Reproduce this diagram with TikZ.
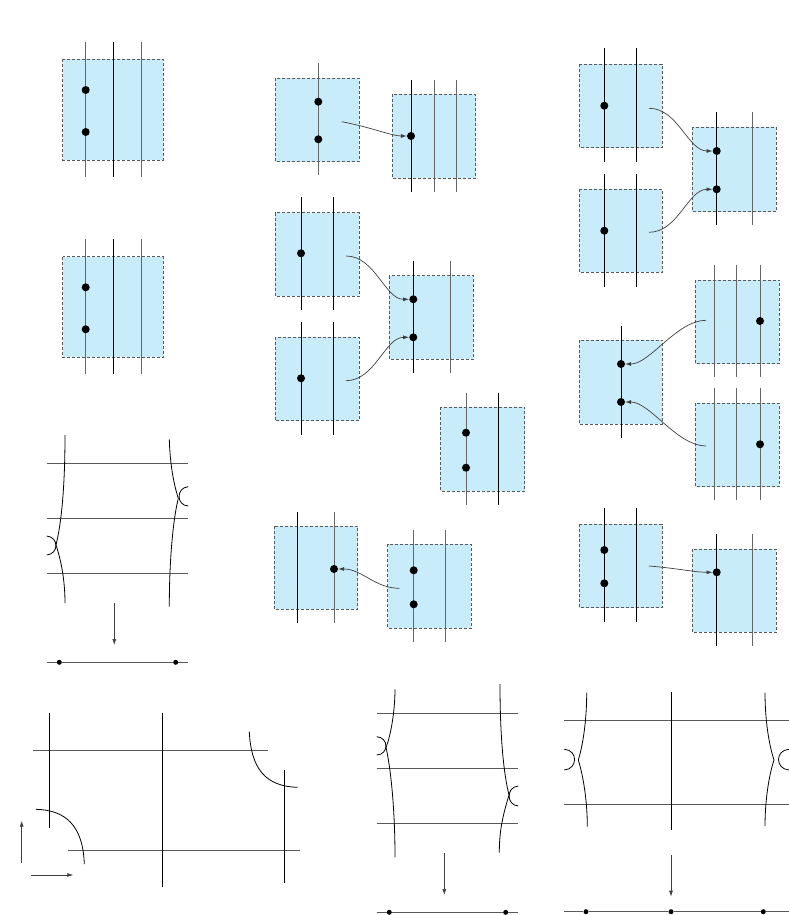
\documentclass[tikz,border=0pt]{standalone}
\usepackage{xcolor}
\usepackage{tikz}
\usetikzlibrary{arrows.meta}

\definecolor{regfill}{RGB}{200,236,250}

\begin{document}
\begin{tikzpicture}[
  x=1pt, y=-1pt,
  region/.style={draw=black!65, dash pattern=on 3pt off 2pt, fill=regfill, line width=0.8pt},
  strand/.style={line width=0.85pt, black},
  strandg/.style={line width=1pt, black!60},
  sheet/.style={line width=0.9pt, black!65},
  fold/.style={line width=0.8pt, black},
  dot/.style={circle, fill=black, inner sep=0pt, minimum size=8pt},
  basedot/.style={circle, fill=black, inner sep=0pt, minimum size=5pt},
  arr/.style={-{Latex[length=6pt,width=4pt]}, line width=0.7pt, black!75}
]
\useasboundingbox (0,0) rectangle (789,915);

% left column: two stacked regions
\draw[region] (62.7,59.3) rectangle (163.3,160);
\draw[strandg] (85.7,41.7) -- (85.7,176.7);
\draw[strand] (113.3,41.7) -- (113.3,176.7);
\draw[strandg] (141,41.7) -- (141,176.7);
\node[dot] (a1) at (85.7,90) {};
\node[dot] (a2) at (85.7,132) {};

\draw[region] (62.7,256.7) rectangle (163.3,357.3);
\draw[strandg] (85.7,239) -- (85.7,374);
\draw[strand] (113.3,239) -- (113.3,374);
\draw[strandg] (141,239) -- (141,374);
\node[dot] (b1) at (85.7,287.3) {};
\node[dot] (b2) at (85.7,329.3) {};

% middle column
\draw[region] (275,78.3) rectangle (359.3,161.7);
\draw[strandg] (318.3,63.3) -- (318.3,175);
\node[dot] (m1a) at (318.3,101.7) {};
\node[dot] (m1b) at (318.3,139.3) {};
\coordinate (m1s) at (341.7,121.7);
\draw[region] (392.3,94.3) rectangle (475.7,178.3);
\draw[strand] (411,80) -- (411,192);
\draw[strandg] (434,80) -- (434,192);
\draw[strandg] (456.7,80) -- (456.7,192);
\node[dot] (m1t) at (411,136) {};
\draw[arr] (m1s) .. controls (370,127) and (392,136) .. (m1t);

\draw[region] (275,212.7) rectangle (359.3,296);
\draw[strand] (301,197) -- (301,310);
\draw[strand] (333.3,197) -- (333.3,310);
\node[dot] (m2a) at (301,253.3) {};
\coordinate (m2s) at (346,256);
\draw[region] (275,337) rectangle (359.3,420.7);
\draw[strand] (301,322.3) -- (301,435);
\draw[strand] (333.3,322.3) -- (333.3,435);
\node[dot] (m3a) at (301,378.3) {};
\coordinate (m3s) at (346,380.7);
\draw[region] (389.3,275.7) rectangle (473.3,359.3);
\draw[strand] (413.3,260.7) -- (413.3,373.3);
\draw[strandg] (450,260.7) -- (450,373.3);
\node[dot] (m2t) at (413.3,299.3) {};
\node[dot] (m3t) at (413.3,337.3) {};
\draw[arr] (m2s) .. controls (375,256) and (385,299.3) .. (m2t);
\draw[arr] (m3s) .. controls (375,380.7) and (385,337.3) .. (m3t);

\draw[region] (440.3,407.3) rectangle (524.7,491);
\draw[strandg] (466,392.7) -- (466,505);
\draw[strand] (498,392.7) -- (498,505);
\node[dot] (m5a) at (466,432.7) {};
\node[dot] (m5b) at (466,467.7) {};

\draw[region] (274.3,526) rectangle (357.7,609.3);
\draw[strand] (297.3,511.7) -- (297.3,623.3);
\draw[strandg] (334,511.7) -- (334,623.3);
\node[dot] (m4t) at (334,569) {};
\draw[region] (387.7,544.3) rectangle (471.3,628.3);
\draw[strandg] (413.7,530) -- (413.7,642.3);
\draw[strandg] (445.7,530) -- (445.7,642.3);
\node[dot] (m4a) at (413.7,570.3) {};
\node[dot] (m4b) at (413.7,604.3) {};
\coordinate (m4s) at (399.3,588.3);
\draw[arr] (m4s) .. controls (375,588.3) and (362,569) .. (m4t);

% right column
\draw[region] (579,64.3) rectangle (662.3,147.7);
\draw[strand] (604.3,48) -- (604.3,161.7);
\draw[strand] (636.7,48) -- (636.7,161.7);
\node[dot] (r1a) at (604.3,105.7) {};
\coordinate (r1s) at (649,108.3);
\draw[region] (579,189) rectangle (662.3,272.3);
\draw[strand] (604.3,174.3) -- (604.3,286.7);
\draw[strand] (636.7,174.3) -- (636.7,286.7);
\node[dot] (r2a) at (604.3,230.7) {};
\coordinate (r2s) at (649,232.3);
\draw[region] (692.3,127.3) rectangle (776.3,211.7);
\draw[strand] (716.7,112.3) -- (716.7,225);
\draw[strandg] (752.7,112.3) -- (752.7,225);
\node[dot] (r1t) at (716.7,151) {};
\node[dot] (r2t) at (716.7,189.3) {};
\draw[arr] (r1s) .. controls (678,108.3) and (688,151) .. (r1t);
\draw[arr] (r2s) .. controls (678,232.3) and (688,189.3) .. (r2t);

\draw[region] (579,340) rectangle (662.3,424);
\draw[strand] (621,325.7) -- (621,437.7);
\node[dot] (r3t) at (621,364) {};
\node[dot] (r4t) at (621,402) {};
\draw[region] (695.3,280) rectangle (779.3,363.7);
\draw[strandg] (714,265) -- (714,377.3);
\draw[strandg] (736.7,265) -- (736.7,377.3);
\draw[strandg] (760,265) -- (760,377.3);
\node[dot] (r3a) at (760,321) {};
\coordinate (r3s) at (706,320.3);
\draw[region] (695.3,403.3) rectangle (779.3,486.7);
\draw[strandg] (714,388.3) -- (714,500);
\draw[strandg] (736.7,388.3) -- (736.7,500);
\draw[strandg] (760,388.3) -- (760,500);
\node[dot] (r4a) at (760,444.3) {};
\coordinate (r4s) at (706,446);
\draw[arr] (r3s) .. controls (677,320.3) and (650,364) .. (r3t);
\draw[arr] (r4s) .. controls (677,446) and (650,402) .. (r4t);

\draw[region] (579,524.3) rectangle (662.3,607.7);
\draw[strand] (604.3,508) -- (604.3,621.7);
\draw[strand] (636.7,508) -- (636.7,621.7);
\node[dot] (r5a) at (604.3,550) {};
\node[dot] (r5b) at (604.3,583.3) {};
\coordinate (r5s) at (649,566);
\draw[region] (692.3,549) rectangle (776.3,632.3);
\draw[strand] (716.7,534) -- (716.7,646);
\draw[strandg] (752.7,534) -- (752.7,646);
\node[dot] (r5t) at (716.7,572.3) {};
\draw[arr] (r5s) .. controls (675,568) and (695,572.3) .. (r5t);

% folded sheet over the segment, left
\draw[sheet] (46.7,463.3) -- (188.3,463.3);
\draw[sheet] (46.7,518.3) -- (188.3,518.3);
\draw[sheet] (46.7,573.3) -- (188.3,573.3);
\draw[fold] (65,435) .. controls (65,490) and (61,525) .. (56,545)
  .. controls (61,560) and (65,580) .. (65,603);
\draw[fold] (46.7,536) .. controls (59,537) and (59,554) .. (46.7,555);
\draw[fold] (169.3,439.3) .. controls (170,465) and (174,485) .. (178.3,498.3)
  .. controls (173,520) and (169.3,560) .. (169.3,606.7);
\draw[fold] (188.3,486.7) .. controls (176,487.5) and (176,505.5) .. (188.3,506);
\coordinate (c1) at (114.3,603.3);
\coordinate (c2) at (114.3,645);
\draw[arr] (c1) -- (c2);
\node[basedot] (c3) at (59.3,662.3) {};
\node[basedot] (c4) at (175.7,662.3) {};
\coordinate (c5) at (46.7,662.3);
\coordinate (c6) at (188.3,662.3);
\draw[sheet] (c5) -- (c3) -- (c4) -- (c6);

% corners, bottom left
\draw[sheet] (32.7,750) -- (268.3,750);
\draw[sheet] (68.3,850) -- (300,850);
\draw[fold] (49.3,713.3) -- (49.3,828.3);
\draw[fold] (162.7,713.3) -- (162.7,886.7);
\draw[fold] (284.3,770) -- (284.3,882.7);
\draw[fold] (249.3,731.7) .. controls (251,768) and (265,786.5) .. (297.7,787.3);
\draw[fold] (36,809.3) .. controls (65,810) and (83,825) .. (84.3,864);
\coordinate (d1) at (21.7,862.7);
\coordinate (d2) at (21.7,820.7);
\coordinate (d3) at (30.7,875);
\coordinate (d4) at (73.3,875);
\draw[arr] (d1) -- (d2);
\draw[arr] (d3) -- (d4);

% folded sheet, bottom middle
\draw[sheet] (376.7,713.3) -- (518.3,713.3);
\draw[sheet] (376.7,768.3) -- (518.3,768.3);
\draw[sheet] (376.7,823.3) -- (518.3,823.3);
\draw[fold] (395,689.3) .. controls (395,710) and (391,735) .. (386,747.3)
  .. controls (391,770) and (395,810) .. (395,857.3);
\draw[fold] (376.7,736.7) .. controls (389,737.5) and (389,754.5) .. (376.7,755);
\draw[fold] (500,684) .. controls (500,740) and (504,775) .. (509,795)
  .. controls (503,815) and (499.3,830) .. (499.3,852.7);
\draw[fold] (518.3,786) .. controls (506,787) and (506,805) .. (518.3,806);
\coordinate (e1) at (444.3,853.3);
\coordinate (e2) at (444.3,895);
\draw[arr] (e1) -- (e2);
\node[basedot] (e3) at (389.3,912.3) {};
\node[basedot] (e4) at (505.7,912.3) {};
\coordinate (e5) at (376.7,912.3);
\coordinate (e6) at (518.3,912.3);
\draw[sheet] (e5) -- (e3) -- (e4) -- (e6);

% folded sheet, bottom right
\draw[sheet] (564.3,720) -- (789,720);
\draw[sheet] (564.3,804.3) -- (789,804.3);
\draw[fold] (671,691.7) -- (671,830);
\draw[fold] (586.7,692.7) .. controls (586.7,720) and (583,745) .. (578.3,760)
  .. controls (583,775) and (587.3,800) .. (587.3,826.7);
\draw[fold] (564.3,749.3) .. controls (578,750) and (578,769) .. (564.3,770);
\draw[fold] (765,692.7) .. controls (765,720) and (769,745) .. (774,760)
  .. controls (769,775) and (765,800) .. (765,826);
\draw[fold] (789,749.3) .. controls (775,750) and (775,769) .. (789,770);
\coordinate (f1) at (671,855);
\coordinate (f2) at (671,896.7);
\draw[arr] (f1) -- (f2);
\node[basedot] (f3) at (586,911.7) {};
\node[basedot] (f4) at (671,911.7) {};
\node[basedot] (f5) at (763.3,911.7) {};
\coordinate (f6) at (564.3,911.7);
\coordinate (f7) at (789,911.7);
\draw[sheet] (f6) -- (f3) -- (f4) -- (f5) -- (f7);
\end{tikzpicture}
\end{document}
